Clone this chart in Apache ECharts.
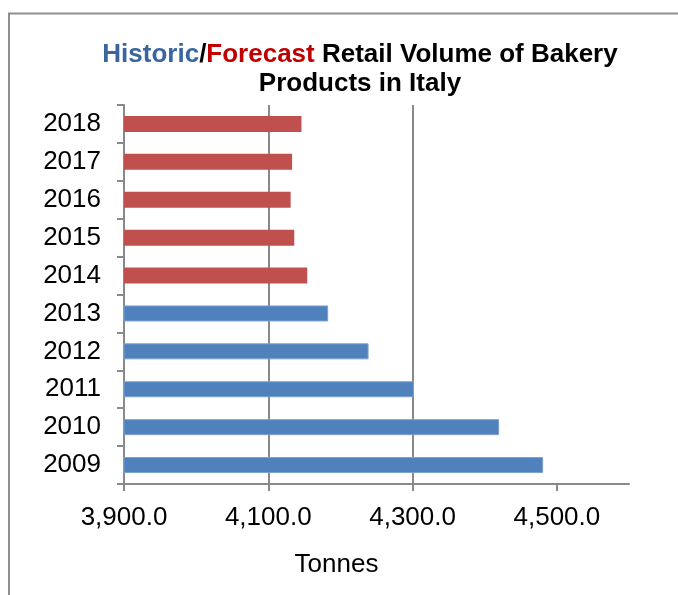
<!DOCTYPE html>
<html><head><meta charset="utf-8">
<script src="https://cdn.jsdelivr.net/npm/echarts@6/dist/echarts.min.js"></script>
<style>html,body{margin:0;padding:0;background:#fff}#c{width:678px;height:595px}</style>
</head><body><div id="c"></div>
<script>
var years = ['2009','2010','2011','2012','2013','2014','2015','2016','2017','2018'];
var volumes = [4481, 4420, 4302, 4239, 4183, 4154, 4136, 4131, 4133, 4146];
var firstForecastYear = '2014';
var xTicks = [3900, 4100, 4300, 4500];

var fIdx = years.indexOf(firstForecastYear);
var historic = volumes.map(function(v,i){ return i < fIdx ? v : null; });
var forecast = volumes.map(function(v,i){ return i >= fIdx ? v : null; });

var chart = echarts.init(document.getElementById('c'));
var FONT = 'Liberation Sans, Arial, sans-serif';
var rs = function(c){ return {color:c, fontWeight:'bold', fontSize:26, fontFamily:FONT, lineHeight:29}; };
chart.setOption({
  animation: false,
  graphic: [{type:'rect', shape:{x:9,y:13.5,width:720,height:640}, style:{fill:'none', stroke:'#8E8E8E', lineWidth:2}, silent:true}],
  title: {
    left: 355, top: 35, textAlign: 'center',
    text: '{h|Historic}{s|/}{f|Forecast}{b| Retail Volume of Bakery}\n{b|Products in Italy}',
    textStyle: {
      fontFamily: FONT, fontWeight: 'bold', fontSize: 26, lineHeight: 29,
      rich: { h: rs('#3A66A0'), s: rs('#000'), f: rs('#C00000'), b: rs('#000') }
    }
  },
  grid: {left: 124, right: 49, top: 105, bottom: 111, containLabel: false},
  xAxis: {
    type: 'value', min: 3900, max: 4600, interval: 200,
    name: 'Tonnes', nameLocation: 'middle', nameGap: 68,
    nameTextStyle: {fontFamily: FONT, fontSize: 26, color: '#000', padding: [0, 80, 0, 0]},
    axisLine: {show: true, lineStyle: {color: '#898989', width: 2}},
    axisTick: {show: true, length: 7, lineStyle: {color: '#898989', width: 2}, customValues: xTicks},
    axisLabel: {fontFamily: FONT, fontSize: 26, color: '#000', margin: 21, customValues: xTicks,
      formatter: function(v){ return v.toLocaleString('en-US', {minimumFractionDigits:1, maximumFractionDigits:1}); }},
    splitLine: {show: true, showMinLine: false, showMaxLine: false, lineStyle: {color: '#898989', width: 2}}
  },
  yAxis: {
    type: 'category', data: years,
    axisLine: {show: true, lineStyle: {color: '#898989', width: 2}},
    axisTick: {show: true, length: 7, lineStyle: {color: '#898989', width: 2}},
    axisLabel: {fontFamily: FONT, fontSize: 26, color: '#000', margin: 23, padding: [4, 0, 0, 0]},
    splitLine: {show: false}
  },
  series: [
    {name: 'Historic', type: 'bar', data: historic, barWidth: 16, barGap: '-100%',
      itemStyle: {color: '#4F81BD', borderColor: '#7EA0CF', borderWidth: 1}},
    {name: 'Forecast', type: 'bar', data: forecast, barWidth: 16, barGap: '-100%',
      itemStyle: {color: '#C0504D'}}
  ]
});
</script></body></html>
